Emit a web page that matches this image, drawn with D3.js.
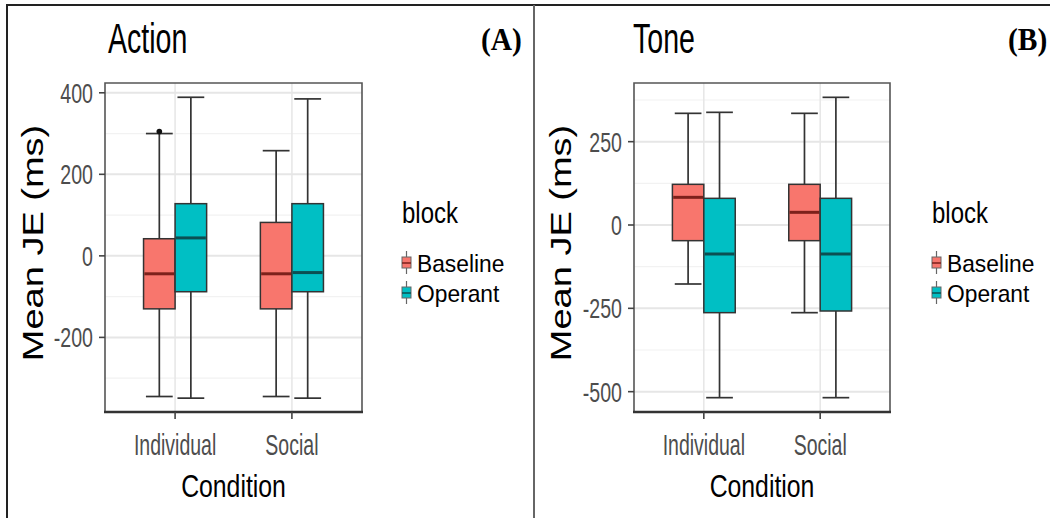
<!DOCTYPE html>
<html>
<head>
<meta charset="utf-8">
<script src="https://cdn.jsdelivr.net/npm/d3@7"></script>
<style>
  html, body { margin: 0; padding: 0; background: #fff; }
  svg { display: block; }
</style>
</head>
<body>
<svg id="chart" width="1050" height="518"></svg>
<script>
// ---------------- data ----------------
const conditions = ["Individual", "Social"];
const blocks = ["Baseline", "Operant"];
const blockColors = ["#F8766D", "#00BFC4"];
const medianColors = ["#7d211b", "#0b4f52"];

// each row: [lower whisker, Q1, median, Q3, upper whisker] for Individual, Social
const actionBaselineStats = [[-345, -130, -44, 42, 300], [-345, -130, -44, 82, 258]];
const actionOperantStats  = [[-349, -88, 44, 128, 389], [-349, -88, -41, 128, 385]];
const actionOutliers = [{ condition: "Individual", block: "Baseline", value: 305 }];
const actionTicks = [-200, 0, 200, 400];
const actionMinorTicks = [-300, -100, 100, 300];
const actionDomain = [-383, 424];

const toneBaselineStats = [[-177, -47, 83, 122, 335], [-263, -47, 38, 122, 335]];
const toneOperantStats  = [[-518, -263, -87, 80, 338], [-518, -258, -87, 80, 383]];
const toneOutliers = [];
const toneTicks = [-500, -250, 0, 250];
const toneMinorTicks = [-375, -125, 125, 375];
const toneDomain = [-561, 426];

// ---------------- helpers ----------------
const SANS = "'Liberation Sans', Arial, Helvetica, sans-serif";
const SERIF = "'Liberation Serif', 'Times New Roman', 'DejaVu Serif', serif";
const svg = d3.select("#chart");
svg.append("rect").attr("width", 1050).attr("height", 518).attr("fill", "#fff");

function txt(parent, x, y, str, o) {
  const g = parent.append("g")
    .attr("transform", `translate(${x},${y}) scale(${o.sx || 1},1)` + (o.rotate ? ` rotate(${o.rotate})` : ""));
  return g.append("text")
    .attr("x", 0).attr("y", 0)
    .attr("text-anchor", o.anchor || "start")
    .style("font-size", o.size + "px")
    .style("font-weight", o.weight || "normal")
    .style("font-family", o.family || SANS)
    .attr("fill", o.color || "#000")
    .text(str);
}

function drawPanel(cfg) {
  const g = svg.append("g");
  const { left, right, top, bottom } = cfg;

  const y = d3.scaleLinear().domain(cfg.domain).range([bottom, top]);
  const x = d3.scalePoint().domain(conditions).range([left, right]).padding(0.6);
  const step = x.step();
  const dodge = d3.scaleBand().domain(blocks).range([-0.27 * step, 0.27 * step]).padding(0);
  const bw = dodge.bandwidth();

  // grid
  g.append("g").selectAll("line").data(cfg.minor).join("line")
    .attr("x1", left).attr("x2", right)
    .attr("y1", d => y(d)).attr("y2", d => y(d))
    .attr("stroke", "#f2f2f2").attr("stroke-width", 1.2);
  g.append("g").selectAll("line").data(cfg.ticks).join("line")
    .attr("x1", left).attr("x2", right)
    .attr("y1", d => y(d)).attr("y2", d => y(d))
    .attr("stroke", "#e6e6e6").attr("stroke-width", 2);
  g.append("g").selectAll("line").data(conditions).join("line")
    .attr("x1", d => x(d)).attr("x2", d => x(d))
    .attr("y1", top).attr("y2", bottom)
    .attr("stroke", "#e6e6e6").attr("stroke-width", 1.5);

  // boxes
  const series = [cfg.baseline, cfg.operant];
  series.forEach((stats, bi) => {
    stats.forEach((s, ci) => {
      const cx = x(conditions[ci]) + dodge(blocks[bi]) + bw / 2;
      const x0 = x(conditions[ci]) + dodge(blocks[bi]);
      const cap = bw * 0.85;
      const bg = g.append("g");
      bg.append("line").attr("x1", cx).attr("x2", cx).attr("y1", y(s[4])).attr("y2", y(s[3]))
        .attr("stroke", "#333").attr("stroke-width", 1.7);
      bg.append("line").attr("x1", cx).attr("x2", cx).attr("y1", y(s[1])).attr("y2", y(s[0]))
        .attr("stroke", "#333").attr("stroke-width", 1.7);
      [s[0], s[4]].forEach(v => {
        bg.append("line").attr("x1", cx - cap / 2).attr("x2", cx + cap / 2)
          .attr("y1", y(v)).attr("y2", y(v))
          .attr("stroke", "#333").attr("stroke-width", 1.7);
      });
      bg.append("rect").attr("x", x0).attr("width", bw)
        .attr("y", y(s[3])).attr("height", y(s[1]) - y(s[3]))
        .attr("fill", blockColors[bi]).attr("stroke", "#333").attr("stroke-width", 1.5);
      bg.append("line").attr("x1", x0 + 0.8).attr("x2", x0 + bw - 0.8)
        .attr("y1", y(s[2])).attr("y2", y(s[2]))
        .attr("stroke", medianColors[bi]).attr("stroke-width", 3);
    });
  });
  cfg.outliers.forEach(o => {
    const cx = x(o.condition) + dodge(o.block) + bw / 2;
    g.append("circle").attr("cx", cx).attr("cy", y(o.value)).attr("r", 2.8).attr("fill", "#111");
  });

  // panel border
  g.append("path")
    .attr("d", `M${left},${bottom} L${left},${top} L${right},${top} L${right},${bottom}`)
    .attr("fill", "none").attr("stroke", "#555").attr("stroke-width", 1.6);
  g.append("line").attr("x1", left - 1).attr("x2", right + 1).attr("y1", bottom).attr("y2", bottom)
    .attr("stroke", "#333").attr("stroke-width", 2.6);

  // y axis ticks + labels
  cfg.ticks.forEach(t => {
    g.append("line").attr("x1", left - 6).attr("x2", left).attr("y1", y(t)).attr("y2", y(t))
      .attr("stroke", "#444").attr("stroke-width", 1.6);
    txt(g, left - 12, y(t) + 10, String(t), { size: 28, sx: 0.7, anchor: "end", color: "#4d4d4d" });
  });
  // x axis ticks + labels
  conditions.forEach(c => {
    g.append("line").attr("x1", x(c)).attr("x2", x(c)).attr("y1", bottom).attr("y2", bottom + 7)
      .attr("stroke", "#444").attr("stroke-width", 1.6);
    txt(g, x(c), 455, c, { size: 30, sx: 0.65, anchor: "middle", color: "#4d4d4d" });
  });

  // axis titles
  txt(g, (left + right) / 2, 497, "Condition", { size: 31, sx: 0.8, anchor: "middle" });
  txt(g, cfg.ylabX, 243, "Mean JE (ms)", { size: 38, sx: 0.79, anchor: "middle", rotate: -90 });

  // title & panel letter
  txt(g, cfg.titleX, 53, cfg.title, { size: 42, sx: 0.68 });
  txt(g, cfg.letterX, 50, cfg.letter, { size: 32, sx: 0.92, weight: "bold", family: SERIF });

  // legend
  const lx = cfg.legendX;
  txt(g, lx, 223, "block", { size: 30, sx: 0.8 });
  const keyY = [[251, 257, 268, 274, 263], [281, 287, 298, 304, 293]];
  blocks.forEach((b, i) => {
    const k = keyY[i];
    const kx = lx + 4.5;
    g.append("line").attr("x1", kx).attr("x2", kx).attr("y1", k[0]).attr("y2", k[3])
      .attr("stroke", "#666").attr("stroke-width", 1.2);
    g.append("rect").attr("x", lx).attr("y", k[1]).attr("width", 9).attr("height", k[2] - k[1])
      .attr("fill", blockColors[i]).attr("stroke", "#666").attr("stroke-width", 1);
    g.append("line").attr("x1", lx).attr("x2", lx + 9).attr("y1", k[4]).attr("y2", k[4])
      .attr("stroke", medianColors[i]).attr("stroke-width", 1.5);
    txt(g, lx + 15, k[4] + 9, b, { size: 24, sx: 0.95 });
  });
}

drawPanel({
  left: 105, right: 362, top: 83, bottom: 412,
  domain: actionDomain, ticks: actionTicks, minor: actionMinorTicks,
  baseline: actionBaselineStats, operant: actionOperantStats, outliers: actionOutliers,
  title: "Action", titleX: 108, letter: "(A)", letterX: 481, legendX: 402, ylabX: 43
});
drawPanel({
  left: 634, right: 890, top: 83, bottom: 412,
  domain: toneDomain, ticks: toneTicks, minor: toneMinorTicks,
  baseline: toneBaselineStats, operant: toneOperantStats, outliers: toneOutliers,
  title: "Tone", titleX: 633, letter: "(B)", letterX: 1008, legendX: 932, ylabX: 571
});

// outer frame and divider
svg.append("path").attr("d", "M7,520 L7,5 L1052,5")
  .attr("fill", "none").attr("stroke", "#222").attr("stroke-width", 2);
svg.append("line").attr("x1", 534).attr("x2", 534).attr("y1", 5).attr("y2", 518)
  .attr("stroke", "#666").attr("stroke-width", 2);
</script>
</body>
</html>
